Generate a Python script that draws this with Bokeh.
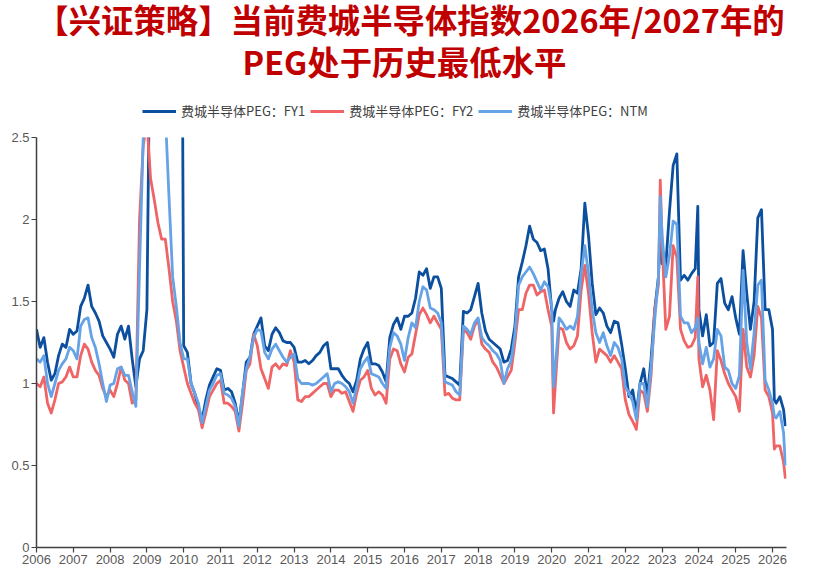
from bokeh.plotting import figure
from bokeh.layouts import column
from bokeh.models import (Range1d, FixedTicker, CustomJSTickFormatter, Legend,
                          LegendItem, ColumnDataSource)
from bokeh.core.properties import value
from bokeh.embed import file_html
from bokeh.resources import INLINE

# ---------------- data ----------------
title_lines = ["【兴证策略】当前费城半导体指数2026年/2027年的", "PEG处于历史最低水平"]
series_names = ["费城半导体PEG：FY1", "费城半导体PEG：FY2", "费城半导体PEG：NTM"]
series_colors = ["#0B4F9E", "#EF6464", "#66A3E6"]
year_ticks = [2006, 2007, 2008, 2009, 2010, 2011, 2012, 2013, 2014, 2015, 2016,
              2017, 2018, 2019, 2020, 2021, 2022, 2023, 2024, 2025, 2026]
y_ticks = [0, 0.5, 1, 1.5, 2, 2.5]

dates = [
    2006.0, 2006.1, 2006.2, 2006.3, 2006.4, 2006.5, 2006.6, 2006.7, 2006.8, 2006.9,
    2007.0, 2007.1, 2007.2, 2007.3, 2007.4, 2007.5, 2007.6, 2007.7, 2007.8, 2007.9,
    2008.0, 2008.1, 2008.2, 2008.3, 2008.4, 2008.5, 2008.6, 2008.7, 2008.8, 2008.9,
    2009.0, 2009.1, 2009.2, 2009.3, 2009.4, 2009.5, 2009.6, 2009.7, 2009.8, 2009.9,
    2010.0, 2010.1, 2010.2, 2010.3, 2010.4, 2010.5, 2010.6, 2010.7, 2010.8, 2010.9,
    2011.0, 2011.1, 2011.2, 2011.3, 2011.4, 2011.5, 2011.6, 2011.7, 2011.8, 2011.9,
    2012.0, 2012.1, 2012.2, 2012.3, 2012.4, 2012.5, 2012.6, 2012.7, 2012.8, 2012.9,
    2013.0, 2013.1, 2013.2, 2013.3, 2013.4, 2013.5, 2013.6, 2013.7, 2013.8, 2013.9,
    2014.0, 2014.1, 2014.2, 2014.3, 2014.4, 2014.5, 2014.6, 2014.7, 2014.8, 2014.9,
    2015.0, 2015.1, 2015.2, 2015.3, 2015.4, 2015.5, 2015.6, 2015.7, 2015.8, 2015.9,
    2016.0, 2016.1, 2016.2, 2016.3, 2016.4, 2016.5, 2016.6, 2016.7, 2016.8, 2016.9,
    2017.0, 2017.1, 2017.2, 2017.3, 2017.4, 2017.5, 2017.6, 2017.7, 2017.8, 2017.9,
    2018.0, 2018.1, 2018.2, 2018.3, 2018.4, 2018.5, 2018.6, 2018.7, 2018.8, 2018.9,
    2019.0, 2019.1, 2019.2, 2019.3, 2019.4, 2019.5, 2019.6, 2019.7, 2019.8, 2019.9,
    2020.0, 2020.05, 2020.1, 2020.2, 2020.3, 2020.4, 2020.5, 2020.6, 2020.7, 2020.8, 2020.9,
    2021.0, 2021.1, 2021.2, 2021.3, 2021.4, 2021.5, 2021.6, 2021.7, 2021.8, 2021.9,
    2022.0, 2022.1, 2022.2, 2022.3, 2022.4, 2022.5, 2022.6, 2022.7, 2022.8, 2022.9, 2022.95,
    2023.0, 2023.1, 2023.2, 2023.3, 2023.4, 2023.5, 2023.6, 2023.7, 2023.8, 2023.9, 2023.97,
    2024.0, 2024.1, 2024.2, 2024.3, 2024.4, 2024.5, 2024.6, 2024.7, 2024.8, 2024.9,
    2025.0, 2025.1, 2025.2, 2025.3, 2025.4, 2025.5, 2025.6, 2025.7, 2025.8, 2025.9,
    2026.0, 2026.05, 2026.1, 2026.2, 2026.3, 2026.35,
]

peg_fy1 = [
    1.33, 1.22, 1.28, 1.13, 1.02, 1.06, 1.17, 1.24, 1.22, 1.33,
    1.30, 1.32, 1.47, 1.52, 1.60, 1.47, 1.43, 1.38, 1.29, 1.25,
    1.21, 1.16, 1.30, 1.35, 1.27, 1.35, 1.15, 0.98, 1.15, 1.20,
    1.45, 3.50, 4.50, 5.00, 5.00, 5.00, 5.00, 5.00, 5.00, 6.00,
    1.23, 1.19, 1.00, 0.94, 0.85, 0.78, 0.90, 0.99, 1.04, 1.09,
    1.08, 0.96, 0.97, 0.95, 0.88, 0.76, 0.94, 1.13, 1.16, 1.30,
    1.35, 1.40, 1.23, 1.20, 1.30, 1.34, 1.31, 1.26, 1.25, 1.25,
    1.22, 1.13, 1.13, 1.14, 1.12, 1.14, 1.17, 1.19, 1.23, 1.25,
    1.09, 1.09, 1.09, 1.05, 1.02, 1.00, 0.95, 1.02, 1.15, 1.21,
    1.25, 1.12, 1.12, 1.11, 1.07, 1.01, 1.28, 1.36, 1.40, 1.33,
    1.41, 1.41, 1.43, 1.52, 1.68, 1.66, 1.70, 1.58, 1.65, 1.65,
    1.58, 1.05, 1.04, 1.03, 1.01, 0.99, 1.44, 1.43, 1.45, 1.53,
    1.61, 1.43, 1.32, 1.27, 1.25, 1.23, 1.21, 1.13, 1.14, 1.21,
    1.35, 1.65, 1.74, 1.84, 1.96, 1.88, 1.86, 1.81, 1.82, 1.70,
    1.45, 1.38, 1.45, 1.52, 1.56, 1.50, 1.47, 1.57, 1.55, 1.70, 2.10,
    1.90, 1.61, 1.42, 1.46, 1.43, 1.35, 1.31, 1.38, 1.37, 1.24,
    1.09, 0.92, 0.96, 0.82, 1.00, 1.09, 0.92, 1.15, 1.45, 1.65, 1.94,
    1.73, 1.72, 2.05, 2.33, 2.40, 1.63, 1.66, 1.63, 1.67, 1.70, 2.08,
    1.45, 1.29, 1.42, 1.23, 1.25, 1.61, 1.64, 1.49, 1.45, 1.53,
    1.40, 1.30, 1.81, 1.55, 1.33, 1.50, 2.01, 2.06, 1.45, 1.45,
    1.33, 0.90, 0.88, 0.92, 0.84, 0.74,
]

peg_fy2 = [
    1.00, 0.98, 1.04, 0.88, 0.82, 0.90, 1.00, 1.01, 1.04, 1.10,
    1.04, 1.04, 1.17, 1.24, 1.21, 1.13, 1.08, 1.05, 0.97, 0.92,
    0.96, 0.92, 1.00, 1.10, 1.02, 1.00, 0.88, 0.90, 2.00, 2.45,
    2.60, 2.25, 2.12, 1.98, 1.88, 1.88, 1.70, 1.50, 1.38, 1.20,
    1.10, 1.00, 0.94, 0.88, 0.84, 0.73, 0.82, 0.92, 0.96, 1.00,
    1.02, 0.88, 0.88, 0.86, 0.83, 0.71, 0.88, 1.08, 1.12, 1.30,
    1.23, 1.09, 1.03, 0.97, 1.10, 1.12, 1.09, 1.12, 1.11, 1.20,
    1.13, 0.90, 0.89, 0.92, 0.92, 0.94, 0.96, 0.98, 1.00, 1.00,
    0.92, 0.96, 0.96, 0.94, 0.95, 0.89, 0.83, 0.94, 1.02, 1.04,
    1.08, 0.97, 0.93, 0.95, 0.93, 0.88, 1.15, 1.21, 1.20, 1.12,
    1.07, 1.16, 1.18, 1.30, 1.42, 1.46, 1.42, 1.37, 1.41, 1.37,
    1.33, 0.93, 0.94, 0.91, 0.90, 0.90, 1.33, 1.31, 1.27, 1.35,
    1.39, 1.24, 1.21, 1.19, 1.13, 1.10, 1.05, 1.00, 1.04, 1.08,
    1.25, 1.45, 1.45, 1.55, 1.60, 1.60, 1.54, 1.56, 1.57, 1.45,
    1.35, 0.82, 1.00, 1.34, 1.33, 1.25, 1.21, 1.23, 1.29, 1.57, 1.72,
    1.55, 1.31, 1.13, 1.21, 1.19, 1.17, 1.13, 1.17, 1.13, 1.09,
    0.90, 0.81, 0.77, 0.72, 0.96, 0.94, 0.83, 1.05, 1.45, 1.60, 2.24,
    1.86, 1.33, 1.41, 1.84, 1.77, 1.33, 1.26, 1.22, 1.23, 1.28, 1.65,
    1.15, 0.98, 1.05, 0.96, 0.78, 1.20, 1.14, 1.06, 1.00, 0.96,
    0.92, 0.83, 1.33, 1.10, 1.04, 1.17, 1.47, 1.40, 0.96, 0.92,
    0.82, 0.60, 0.62, 0.62, 0.52, 0.42,
]

peg_ntm = [
    1.15, 1.13, 1.17, 1.00, 0.92, 1.00, 1.08, 1.12, 1.15, 1.22,
    1.20, 1.15, 1.35, 1.39, 1.40, 1.28, 1.22, 1.12, 1.00, 0.89,
    0.99, 1.00, 1.09, 1.10, 1.05, 1.05, 0.95, 0.86, 1.70, 2.50,
    3.20, 3.50, 3.50, 3.50, 3.20, 2.65, 2.14, 1.65, 1.47, 1.25,
    1.15, 1.15, 1.00, 0.94, 0.88, 0.76, 0.86, 0.96, 1.00, 1.05,
    1.06, 0.94, 0.93, 0.91, 0.86, 0.74, 0.95, 1.09, 1.16, 1.28,
    1.33, 1.32, 1.19, 1.15, 1.21, 1.24, 1.20, 1.16, 1.13, 1.16,
    1.18, 1.03, 1.00, 1.00, 1.00, 0.99, 1.00, 1.02, 1.04, 1.06,
    0.95, 1.00, 1.01, 1.00, 0.98, 0.95, 0.88, 0.98, 1.09, 1.13,
    1.16, 1.06, 1.05, 1.04, 1.00, 0.97, 1.22, 1.31, 1.29, 1.24,
    1.14, 1.28, 1.37, 1.34, 1.50, 1.59, 1.57, 1.46, 1.45, 1.43,
    1.37, 1.01, 1.00, 0.99, 0.95, 0.93, 1.35, 1.33, 1.30, 1.37,
    1.40, 1.28, 1.25, 1.23, 1.20, 1.18, 1.14, 1.00, 1.09, 1.14,
    1.30, 1.60, 1.65, 1.68, 1.71, 1.67, 1.62, 1.57, 1.62, 1.59,
    1.47, 0.98, 1.10, 1.40, 1.37, 1.33, 1.35, 1.33, 1.41, 1.67, 1.84,
    1.67, 1.45, 1.31, 1.25, 1.31, 1.23, 1.17, 1.25, 1.22, 1.15,
    0.98, 0.94, 0.89, 0.78, 1.00, 1.00, 0.86, 1.10, 1.39, 1.65, 2.14,
    1.90, 1.65, 1.78, 1.99, 1.97, 1.41, 1.37, 1.37, 1.31, 1.34, 1.40,
    1.25, 1.12, 1.22, 1.10, 1.15, 1.33, 1.29, 1.10, 1.08, 1.00,
    0.97, 1.05, 1.69, 1.25, 1.09, 1.31, 1.60, 1.63, 1.02, 0.96,
    0.88, 0.80, 0.79, 0.83, 0.70, 0.50,
]

LINE_W = 2.8
NAN = float("nan")

# ---------------- header: title + legend ----------------
# (the column layout aligns this frame with the chart frame: page x 36..786)
head = figure(width=808, height=120, x_range=Range1d(36, 786), y_range=Range1d(120, 0),
              x_axis_type=None, y_axis_type=None,
              output_backend="svg", toolbar_location=None, title=None,
              min_border=0, min_border_left=36, min_border_right=22,
              outline_line_color=None,
              background_fill_color="white", border_fill_color="white")
head.grid.visible = False
head.text(x=[410, 404], y=[18, 60], text=title_lines,
          text_align="center", text_baseline="middle",
          text_font=value("Noto Sans CJK SC"), text_font_size="32.4px",
          text_font_style="bold", text_color="#C00000")

# legend keys: renderers styled like the series (they hold no visible points)
key_renderers = [head.line(x=[NAN], y=[NAN], line_color=c, line_width=LINE_W)
                 for c in series_colors]
legend = Legend(items=[LegendItem(label=n, renderers=[r], index=0)
                       for n, r in zip(series_names, key_renderers)],
                orientation="horizontal", location=(106, 0),
                label_text_font="Noto Sans CJK SC", label_text_font_size="13px",
                label_text_color="#404040", glyph_width=34, glyph_height=14,
                label_height=14, label_standoff=5, spacing=5, padding=2, margin=0,
                border_line_color=None, background_fill_alpha=0)
head.add_layout(legend)

# ---------------- main chart ----------------
source = ColumnDataSource(data=dict(date=dates, fy1=peg_fy1, fy2=peg_fy2, ntm=peg_ntm))

p = figure(width=808, height=454,
           x_range=Range1d(2006, 2026.38), y_range=Range1d(0, 2.5),
           output_backend="svg", toolbar_location=None, title=None,
           min_border_left=36, min_border_right=22, min_border_bottom=27,
           min_border_top=17,
           background_fill_color="white", border_fill_color="white",
           outline_line_color=None)
p.grid.visible = False

for col, color in zip(["fy1", "fy2", "ntm"], series_colors):
    p.line("date", col, source=source, line_color=color, line_width=LINE_W,
           line_join="round")

fmt = CustomJSTickFormatter(code="return String(tick);")
for ax, ticks in ((p.xaxis[0], year_ticks), (p.yaxis[0], y_ticks)):
    ax.ticker = FixedTicker(ticks=ticks)
    ax.formatter = fmt
    ax.major_label_text_font = "Liberation Sans"
    ax.major_label_text_font_size = "13px"
    ax.major_label_text_color = "#595959"
    ax.major_tick_out = 5
    ax.major_tick_in = 0
    ax.minor_tick_out = 0
    ax.minor_tick_in = 0
    ax.axis_line_color = "#404040"
    ax.axis_line_width = 1.5
    ax.major_tick_line_color = "#404040"
    ax.major_tick_line_width = 1.2
    ax.major_label_standoff = 2

layout = column(head, p, spacing=0)
open("out.html", "w").write(file_html(layout, INLINE))
